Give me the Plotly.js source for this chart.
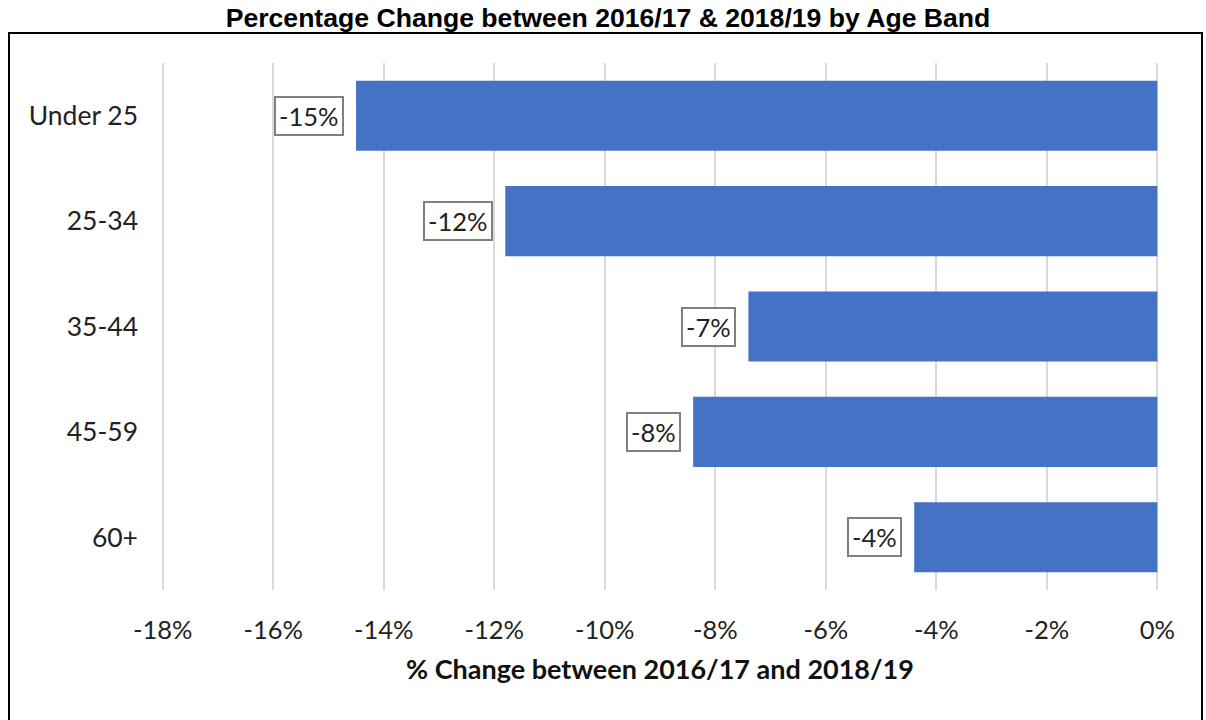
<!DOCTYPE html>
<html>
<head>
<meta charset="utf-8">
<script src="https://cdn.plot.ly/plotly-3.0.1.min.js"></script>
<style>html,body{margin:0;padding:0;background:#fff;}#chart{width:1206px;height:720px;}</style>
</head>
<body>
<div id="chart"></div>
<script>
const categories = ["Under 25", "25-34", "35-44", "45-59", "60+"];
const values = [-14.5, -11.8, -7.4, -8.4, -4.4];
const labels = ["-15%", "-12%", "-7%", "-8%", "-4%"];
const tickVals = [-18, -16, -14, -12, -10, -8, -6, -4, -2, 0];
const tickText = ["-18%", "-16%", "-14%", "-12%", "-10%", "-8%", "-6%", "-4%", "-2%", "0%"];

const tickFont = {family: "Lato, 'Open Sans', sans-serif", size: 25.5, color: "#222"};
const yTickFont = {family: "Lato, 'Open Sans', sans-serif", size: 26.5, color: "#222"};

const annotations = categories.map((c, i) => ({
  x: values[i], y: c, xref: "x", yref: "y",
  text: labels[i], showarrow: false,
  xanchor: "right", xshift: -12,
  font: tickFont,
  bgcolor: "#ffffff", bordercolor: "#808080", borderwidth: 2, borderpad: 3
}));

const data = [{
  type: "bar", orientation: "h",
  x: values, y: categories,
  marker: {color: "#4472C4"},
  hoverinfo: "none"
}];

const layout = {
  width: 1206, height: 720,
  margin: {l: 161, r: 47, t: 63, b: 130},
  paper_bgcolor: "#fff", plot_bgcolor: "#fff",
  showlegend: false,
  bargap: 0.335,
  title: {
    text: "<b>Percentage Change between 2016/17 &amp; 2018/19 by Age Band</b>",
    font: {family: "'Liberation Sans', Arial, sans-serif", size: 26.6, color: "#000"},
    x: 608 / 1206, xanchor: "center", xref: "container",
    y: 1 - 18/720, yref: "container", yanchor: "middle"
  },
  xaxis: {
    range: [-18.03, 0.03],
    tickvals: tickVals, ticktext: tickText,
    tickfont: tickFont,
    showgrid: true, gridcolor: "#D9D9D9", gridwidth: 2,
    zeroline: false, showline: false, ticks: "",
    ticklabelstandoff: 22,
    title: {text: "<b>% Change between 2016/17 and 2018/19</b>",
            font: {family: "Lato, 'Open Sans', sans-serif", size: 27, color: "#111"},
            standoff: 17}
  },
  yaxis: {
    categoryorder: "array", categoryarray: categories.slice().reverse(),
    autorange: false, range: [-0.5, 4.5],
    tickfont: yTickFont,
    showgrid: false, zeroline: false, showline: false, ticks: "",
    ticklabelstandoff: 22
  },
  annotations: annotations,
  shapes: [{
    type: "rect", xref: "paper", yref: "paper",
    x0: (9 - 161) / 998, x1: (1202 - 161) / 998,
    y0: (590 - 730) / 527, y1: (590 - 33) / 527,
    line: {color: "#000", width: 2}, fillcolor: "rgba(0,0,0,0)", layer: "below"
  }]
};

Plotly.newPlot("chart", data, layout, {staticPlot: true, displayModeBar: false});
</script>
</body>
</html>
